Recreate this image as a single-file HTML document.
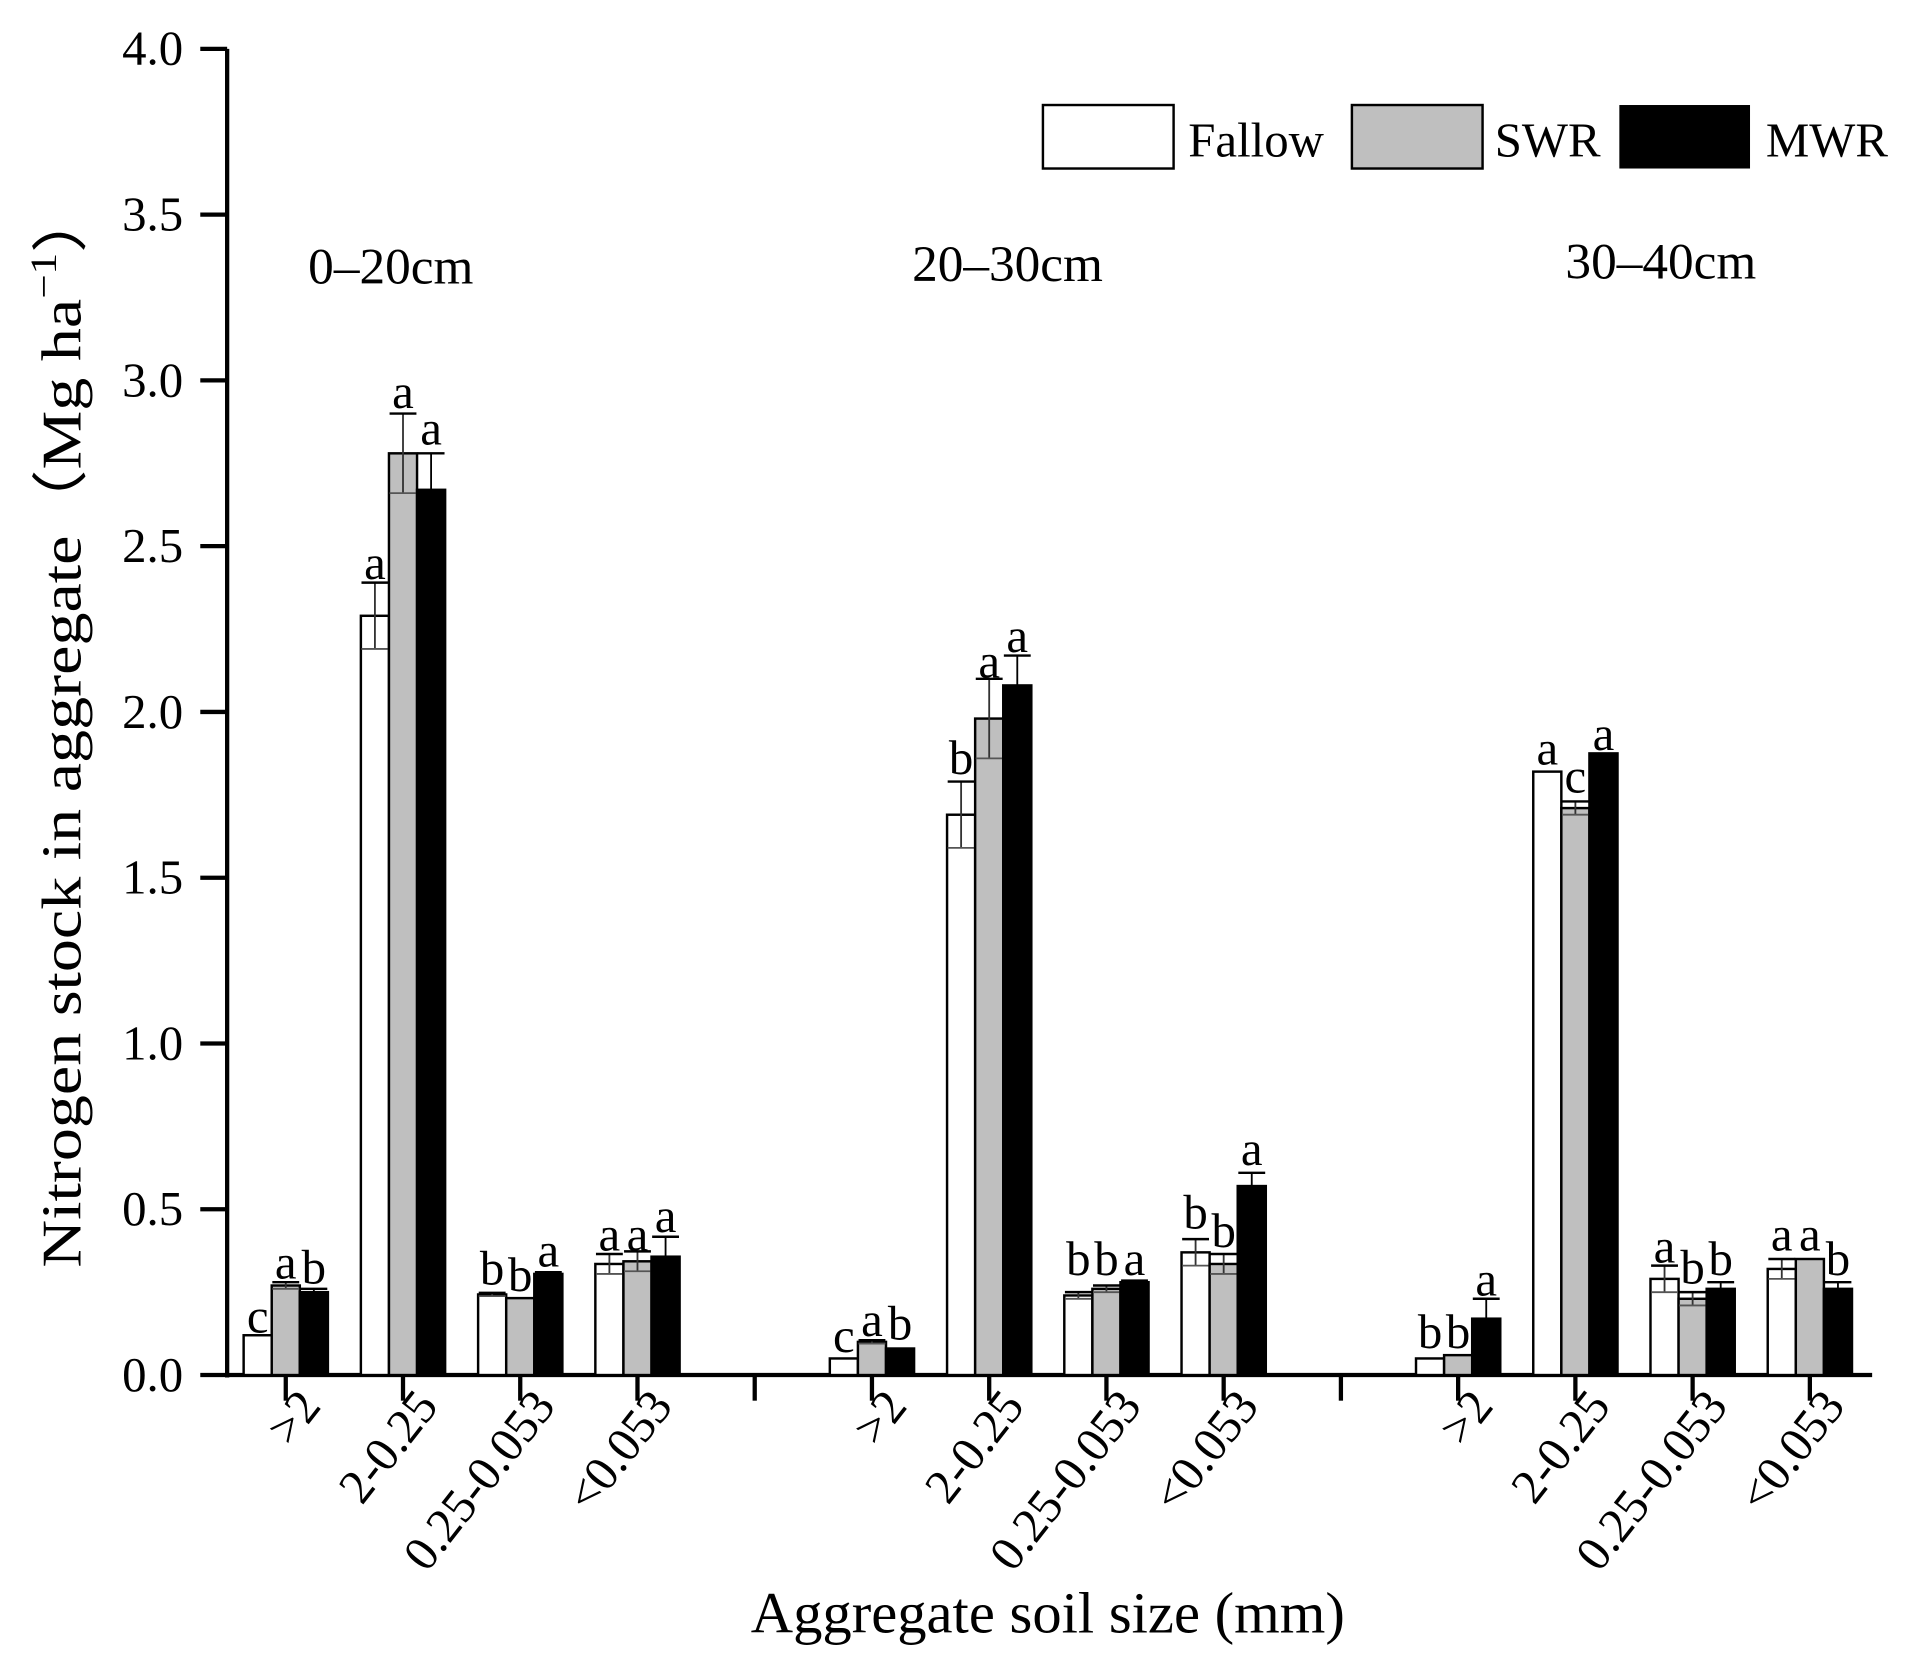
<!DOCTYPE html>
<html><head><meta charset="utf-8"><style>html,body{margin:0;padding:0;background:#fff}svg{display:block}</style></head>
<body>
<svg width="1910" height="1673" viewBox="0 0 1564 1370" preserveAspectRatio="none" xmlns="http://www.w3.org/2000/svg" font-family="Liberation Serif, serif">
<g stroke="#000" stroke-width="3.5" fill="none">
<line x1="186" y1="40" x2="186" y2="1128"/>
<line x1="185" y1="1126" x2="1533" y2="1126"/>
</g>
<g id="yt" stroke="#000" stroke-width="3.5"></g>
<g id="bars"></g>
<g font-size="40" text-anchor="end" id="ylab"></g>
<text transform="translate(66,1038) rotate(-90)" font-size="46" textLength="885" lengthAdjust="spacingAndGlyphs">Nitrogen stock in aggregate（Mg ha<tspan font-size="30" dy="-20">−1</tspan><tspan dy="20">）</tspan></text>
<text x="320" y="232" font-size="42" text-anchor="middle">0–20cm</text>
<text x="825" y="230" font-size="42" text-anchor="middle">20–30cm</text>
<text x="1360" y="228" font-size="42" text-anchor="middle">30–40cm</text>
<rect x="854" y="86" width="107" height="52" fill="#fff" stroke="#000" stroke-width="2"/>
<text x="973" y="128" font-size="40">Fallow</text>
<rect x="1107" y="86" width="107" height="52" fill="#bfbfbf" stroke="#000" stroke-width="2"/>
<text x="1224" y="128" font-size="40">SWR</text>
<rect x="1326" y="86" width="107" height="52" fill="#000"/>
<text x="1446" y="128" font-size="40">MWR</text>
<text x="858" y="1337" font-size="48" text-anchor="middle">Aggregate soil size (mm)</text>
<g id="xt"></g>
</svg>
<script>
const NS="http://www.w3.org/2000/svg";
function el(p,t,a,txt){const e=document.createElementNS(NS,t);for(const k in a)e.setAttribute(k,a[k]);if(txt!==undefined)e.textContent=txt;p.appendChild(e);return e;}
const Y=v=>1126-v*271.5;
const yt=document.getElementById('yt'),yl=document.getElementById('ylab');
for(let i=0;i<=8;i++){const v=i*0.5;el(yt,'line',{x1:164,x2:186,y1:Y(v),y2:Y(v)});el(yl,'text',{x:150,y:Y(v)+13},v.toFixed(1));}
const ticks=[234,330,426,522,714,810,906,1002,1194,1290,1386,1482];
const xt=document.getElementById('xt');
[...ticks,618,1098].forEach(x=>el(xt,'line',{x1:x,x2:x,y1:1126,y2:1147,stroke:'#000','stroke-width':3.5}));
const names=['>2','2-0.25','0.25-0.053','<0.053'];
ticks.forEach((x,i)=>el(xt,'text',{transform:`translate(${x+30},1152) rotate(-52)`,'font-size':40,'text-anchor':'end'},names[i%4]));
const D=[
[[0.12,0.27,0.25],[0,0.01,0.01],['c','a','b']],
[[2.29,2.78,2.67],[0.1,0.12,0.11],['a','a','a']],
[[0.243,0.232,0.305],[0.005,0,0.005],['b','b','a']],
[[0.335,0.343,0.357],[0.03,0.03,0.06],['a','a','a']],
[[0.05,0.10,0.08],[0,0.005,0],['c','a','b']],
[[1.69,1.98,2.08],[0.1,0.12,0.09],['b','a','a']],
[[0.24,0.26,0.28],[0.01,0.01,0.005],['b','b','a']],
[[0.37,0.335,0.57],[0.04,0.03,0.04],['b','b','a']],
[[0.05,0.06,0.17],[0,0,0.06],['b','b','a']],
[[1.82,1.71,1.875],[0,0.02,0],['a','c','a']],
[[0.29,0.23,0.26],[0.04,0.02,0.02],['a','b','b']],
[[0.32,0.35,0.26],[0.03,0,0.02],['a','a','b']]];
const LY=[[1082,1038,1042],[465,325,355],[1043,1048,1028],[1015,1015,1000],[1098,1085,1088],[625,546,525],[1035,1035,1035],[997,1012,945],[1095,1095,1052],[617,640,605],[1025,1042,1035],[1015,1015,1035]];
const fills=['#fff','#bfbfbf','#000'];
const g=document.getElementById('bars');
ticks.forEach((x,i)=>{const [v,e,l]=D[i];for(let j=0;j<3;j++){const x0=x-34.5+j*23;
el(g,'rect',{x:x0,y:Y(v[j]),width:23,height:1126-Y(v[j]),fill:fills[j],stroke:'#000','stroke-width':2});
if(e[j]>0){const cx=x0+11.5;
if(j<2){el(g,'line',{x1:cx,x2:cx,y1:Y(v[j]+e[j]),y2:Y(v[j]-e[j]),stroke:'#333','stroke-width':1.5});
el(g,'line',{x1:cx-11,x2:cx+11,y1:Y(v[j]-e[j]),y2:Y(v[j]-e[j]),stroke:'#555','stroke-width':1.5});}
else el(g,'line',{x1:cx,x2:cx,y1:Y(v[j]+e[j]),y2:Y(v[j]),stroke:'#000','stroke-width':1.5});
el(g,'line',{x1:cx-11,x2:cx+11,y1:Y(v[j]+e[j]),y2:Y(v[j]+e[j]),stroke:'#000','stroke-width':2});}
el(g,'text',{x:x0+11.5,y:LY[i][j]+9,'font-size':40,'text-anchor':'middle'},l[j]);}});
</script>
</body></html>
